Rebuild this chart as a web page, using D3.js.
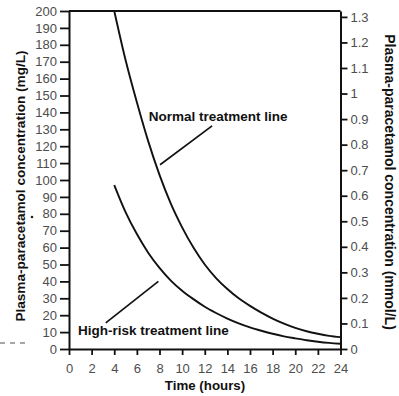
<!DOCTYPE html>
<html>
<head>
<meta charset="utf-8">
<script src="https://cdn.jsdelivr.net/npm/d3@7/dist/d3.min.js"></script>
<style>
  html, body { margin: 0; padding: 0; background: #fff; }
  svg { display: block; }
  .tick text { font-family: "Liberation Sans", Arial, sans-serif; font-size: 13px; fill: #4d4d4d; }
  .tick line { stroke: #111; stroke-width: 1.8; }
  .domain { stroke: #111; stroke-width: 2; }
  .title { font-family: "Liberation Sans", Arial, sans-serif; font-weight: bold; fill: #111; }
</style>
</head>
<body>
<svg id="chart" width="399" height="396"></svg>
<script>
// Time after ingestion (hours) at which each treatment line is tabulated
const hours = [4, 5, 6, 7, 8, 9, 10, 11, 12, 13, 14, 15, 16, 17, 18, 19, 20, 21, 22, 23, 24];

// Plasma paracetamol concentration (mg/L) on each treatment line
const normalLine   = [200, 171, 146, 123, 103, 86, 72, 60, 50, 42, 35.5, 30, 25.5, 21.5, 18, 15, 12.5, 10.5, 9, 7.8, 7];
const highRiskLine = [97, 81, 68, 57, 48, 40.5, 34.5, 29.5, 25, 21.3, 18, 15.2, 12.8, 10.8, 9, 7.5, 6.3, 5.2, 4.3, 3.6, 3.1];

// Axis tick values
const hourTicks = [0, 2, 4, 6, 8, 10, 12, 14, 16, 18, 20, 22, 24];
const mgTicks   = [0, 10, 20, 30, 40, 50, 60, 70, 80, 90, 100, 110, 120, 130, 140, 150, 160, 170, 180, 190, 200];
const mmolTicks = [0, 0.1, 0.2, 0.3, 0.4, 0.5, 0.6, 0.7, 0.8, 0.9, 1, 1.1, 1.2, 1.3];
const mmolTickLabels = ["0", "0.1", "0.2", "0.3", "0.4", "0.5", "0.6", "0.7", "0.8", "0.9", "1", "1.1", "1.2", "1.3"];

// Paracetamol: 1 mmol/L = 151.16 mg/L
const MG_PER_MMOL = 151.16;

// Curve labels with their leader lines, in (hours, mg/L)
const labelText  = ["Normal treatment line", "High-risk treatment line"];
const labelAt    = [[7.05, 135], [0.8, 8]];
const leaderFrom = [[8.05, 109], [3.25, 15.5]];
const leaderTo   = [[12.65, 132], [7.9, 40]];

const svg = d3.select("#chart");

const x = d3.scaleLinear().domain([0, 24]).range([69, 340.5]);
const yMg = d3.scaleLinear().domain([0, 200]).range([349, 11]);
const yMmol = d3.scaleLinear().domain([0, 200 / MG_PER_MMOL]).range([349, 11]);

// top frame line at 200 mg/L
svg.append("line")
  .attr("x1", x(0)).attr("x2", x(24))
  .attr("y1", yMg(200)).attr("y2", yMg(200))
  .attr("stroke", "#111").attr("stroke-width", 2);

// left axis (mg/L)
svg.append("g")
  .attr("transform", `translate(${x(0)},0)`)
  .call(d3.axisLeft(yMg).tickValues(mgTicks).tickSize(9).tickSizeOuter(0).tickPadding(3));

// right axis (mmol/L)
svg.append("g")
  .attr("transform", `translate(${x(24)},0)`)
  .call(d3.axisRight(yMmol).tickValues(mmolTicks).tickSize(7).tickSizeOuter(0).tickPadding(3)
    .tickFormat((d, i) => mmolTickLabels[i]));

// bottom axis (hours)
svg.append("g")
  .attr("transform", `translate(0,${yMg(0)})`)
  .call(d3.axisBottom(x).tickValues(hourTicks).tickSize(6).tickSizeOuter(0).tickPadding(9));

// treatment lines
const line = d3.line()
  .x((d, i) => x(hours[i]))
  .y(d => yMg(d))
  .curve(d3.curveMonotoneX);

[normalLine, highRiskLine].forEach(series => {
  svg.append("path")
    .attr("d", line(series))
    .attr("fill", "none")
    .attr("stroke", "#111")
    .attr("stroke-width", 1.9);
});

// leader lines and curve labels
labelText.forEach((t, i) => {
  svg.append("line")
    .attr("x1", x(leaderFrom[i][0])).attr("y1", yMg(leaderFrom[i][1]))
    .attr("x2", x(leaderTo[i][0])).attr("y2", yMg(leaderTo[i][1]))
    .attr("stroke", "#111").attr("stroke-width", 1.7);
  svg.append("text")
    .attr("class", "title")
    .attr("x", x(labelAt[i][0]))
    .attr("y", yMg(labelAt[i][1]))
    .attr("font-size", 13.5)
    .text(t);
});

// axis titles
svg.append("text")
  .attr("class", "title")
  .attr("font-size", 13.3)
  .attr("text-anchor", "middle")
  .attr("x", 205).attr("y", 390)
  .text("Time (hours)");

svg.append("text")
  .attr("class", "title")
  .attr("font-size", 13.6)
  .attr("text-anchor", "middle")
  .attr("dominant-baseline", "central")
  .attr("transform", "translate(20,186) rotate(-90)")
  .text("Plasma-paracetamol concentration (mg/L)");

svg.append("text")
  .attr("class", "title")
  .attr("font-size", 14)
  .attr("text-anchor", "middle")
  .attr("dominant-baseline", "central")
  .attr("transform", "translate(390,182) rotate(90)")
  .text("Plasma-paracetamol concentration (mmol/L)");

// small specks left on the sheet
svg.append("line")
  .attr("x1", 0).attr("x2", 26).attr("y1", 343).attr("y2", 343)
  .attr("stroke", "#8a8a8a").attr("stroke-width", 1.3)
  .attr("stroke-dasharray", "5,5");
svg.append("circle").attr("cx", 32).attr("cy", 217).attr("r", 1.3).attr("fill", "#222");
</script>
</body>
</html>
